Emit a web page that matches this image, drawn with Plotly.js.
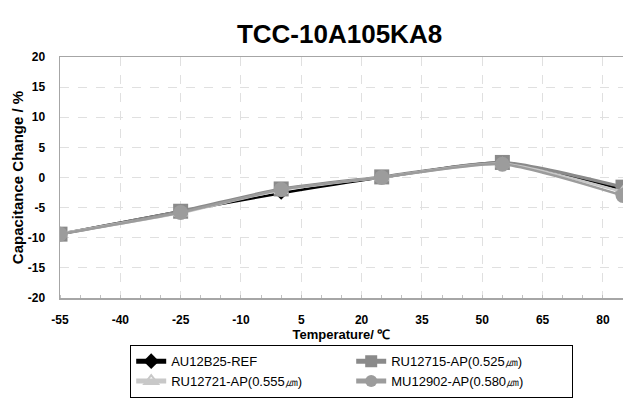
<!DOCTYPE html>
<html>
<head>
<meta charset="utf-8">
<script src="https://cdn.plot.ly/plotly-3.0.1.min.js"></script>
<style>html,body{margin:0;padding:0;background:#fff;}#chart{width:623px;height:400px;}</style>
</head>
<body>
<div id="chart"></div>
<script>
var temperature = [-55, -25, 0, 25, 55, 85];
var seriesNames = ["AU12B25-REF", "RU12715-AP(0.525\u339b)", "RU12721-AP(0.555\u339b)", "MU12902-AP(0.580\u339b)"];
var au12b25 = [-9.4, -5.6, -2.6, 0.0, 2.5, -2.0];
var ru12715 = [-9.4, -5.6, -1.9, 0.1, 2.5, -1.6];
var ru12721 = [-9.3, -5.9, -2.1, 0.0, 2.3, -2.4];
var mu12902 = [-9.4, -5.8, -2.0, 0.0, 2.2, -3.0];
var xTicks = [-55, -40, -25, -10, 5, 20, 35, 50, 65, 80];
var yTicks = [-20, -15, -10, -5, 0, 5, 10, 15, 20];

var traces = [
  {x: temperature, y: au12b25, name: seriesNames[0], mode: 'lines+markers',
   line: {color: '#000000', width: 2.5, shape: 'spline', smoothing: 0.6},
   marker: {symbol: 'diamond', size: 10, color: '#000000'}},
  {x: temperature, y: ru12715, name: seriesNames[1], mode: 'lines+markers',
   line: {color: '#8a8a8a', width: 3, shape: 'spline', smoothing: 0.6},
   marker: {symbol: 'square', size: 15, color: '#8a8a8a'}},
  {x: temperature, y: ru12721, name: seriesNames[2], mode: 'lines+markers',
   line: {color: '#c8c8c8', width: 2.5, shape: 'spline', smoothing: 0.6},
   marker: {symbol: 'triangle-up-open', size: 12, color: '#c8c8c8', line: {width: 1.5}}},
  {x: temperature, y: mu12902, name: seriesNames[3], mode: 'lines+markers',
   line: {color: '#9c9c9c', width: 2.5, shape: 'spline', smoothing: 0.6},
   marker: {symbol: 'circle', size: 15, color: '#9c9c9c'}}
];

var layout = {
  width: 623, height: 400,
  margin: {l: 60, r: 0, t: 57, b: 102},
  paper_bgcolor: '#ffffff', plot_bgcolor: '#ffffff',
  font: {family: 'Liberation Sans, Arial, sans-serif', color: '#000'},
  title: {text: '<b>TCC-10A105KA8</b>', font: {size: 26, family: 'Liberation Sans, Arial, sans-serif'},
          x: 0.545, xanchor: 'center', y: 0.915, yanchor: 'middle'},
  xaxis: {
    range: [-55, 85], tickvals: xTicks, ticktext: xTicks.map(String),
    showgrid: true, gridcolor: '#e0e0e0', griddash: 'dash', gridwidth: 1,
    showline: true, linecolor: '#a6a6a6', linewidth: 1.5, mirror: true,
    ticks: '', zeroline: false, ticklabelstandoff: 10,
    tickfont: {size: 12, family: 'Liberation Sans, Arial, sans-serif', weight: 'bold'},
    minor: {dtick: 5, tick0: -55, ticks: 'inside', ticklen: 3, tickcolor: '#c0c0c0', showgrid: false},
    title: {text: '<b>Temperature/ \u2103</b>', font: {size: 13}, standoff: 3}
  },
  yaxis: {
    range: [-20, 20], tickvals: yTicks, ticktext: yTicks.map(String),
    showgrid: true, gridcolor: '#e0e0e0', griddash: 'dash', gridwidth: 1,
    showline: true, linecolor: '#a6a6a6', linewidth: 1.5, mirror: true,
    ticks: '', zeroline: false, ticklabelstandoff: 11,
    tickfont: {size: 12, family: 'Liberation Sans, Arial, sans-serif', weight: 'bold'},
    title: {text: '<b>Capacitance Change / %</b>', font: {size: 15}, standoff: 0}
  },
  showlegend: true,
  legend: {
    orientation: 'h', xref: 'container', yref: 'container',
    x: 130/623, xanchor: 'left', y: 2/400, yanchor: 'bottom',
    entrywidth: 175, entrywidthmode: 'pixels', itemsizing: 'constant',
    bordercolor: '#000', borderwidth: 1.2, bgcolor: '#fff',
    font: {size: 13, family: 'Liberation Sans, Arial, sans-serif'},
    tracegroupgap: 0, itemwidth: 30
  }
};

Plotly.newPlot('chart', traces, layout, {displayModeBar: false, staticPlot: true});
</script>
</body>
</html>
